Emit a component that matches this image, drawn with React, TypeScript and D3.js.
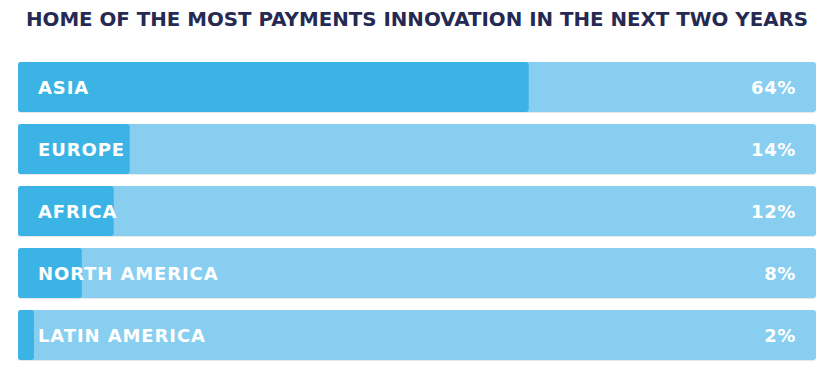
import React from "react";
import * as d3 from "d3";

const title = "HOME OF THE MOST PAYMENTS INNOVATION IN THE NEXT TWO YEARS";
const regions = ["ASIA", "EUROPE", "AFRICA", "NORTH AMERICA", "LATIN AMERICA"];
const values = [64, 14, 12, 8, 2];

const W = 828;
const H = 377;

export default function App() {
  const x = d3.scaleLinear().domain([0, 100]).range([18, 816]);
  const y = d3.scaleBand<string>().domain(regions).range([62, 360]).paddingInner(12 / 62).paddingOuter(0);
  const bh = y.bandwidth();
  return (
    <svg width={W} height={H} style={{ position: "absolute", left: 0, top: 0, background: "#fff" }}>
      <defs>
        <filter id="sh" x="-5%" y="-20%" width="110%" height="150%">
          <feDropShadow dx="0" dy="0.5" stdDeviation="0.6" floodColor="#000" floodOpacity="0.18" />
        </filter>
      </defs>
      <text x={26} y={26} textLength={782} lengthAdjust="spacingAndGlyphs" fontFamily="'DejaVu Sans', sans-serif" fontWeight="bold" fontSize={20} fill="#262a52">
        {title}
      </text>
      {regions.map((r, i) => {
        const yy = y(r)!;
        return (
          <g key={r}>
            <rect x={x(0)} y={yy} width={x(100) - x(0)} height={bh} rx={3} fill="#87cef0" filter="url(#sh)" />
            <rect x={x(0)} y={yy} width={x(values[i]) - x(0)} height={bh} rx={3} fill="#3bb4e5" />
            <text x={38} y={yy + bh / 2 + 7} fontFamily="'DejaVu Sans', sans-serif" fontWeight="bold" fontSize={18} letterSpacing={0.9} fill="#fff">
              {r}
            </text>
            <text x={796} y={yy + bh / 2 + 7} textAnchor="end" fontFamily="'DejaVu Sans', sans-serif" fontWeight="bold" fontSize={18} letterSpacing={0.6} fill="#fff">
              {values[i]}%
            </text>
          </g>
        );
      })}
    </svg>
  );
}
